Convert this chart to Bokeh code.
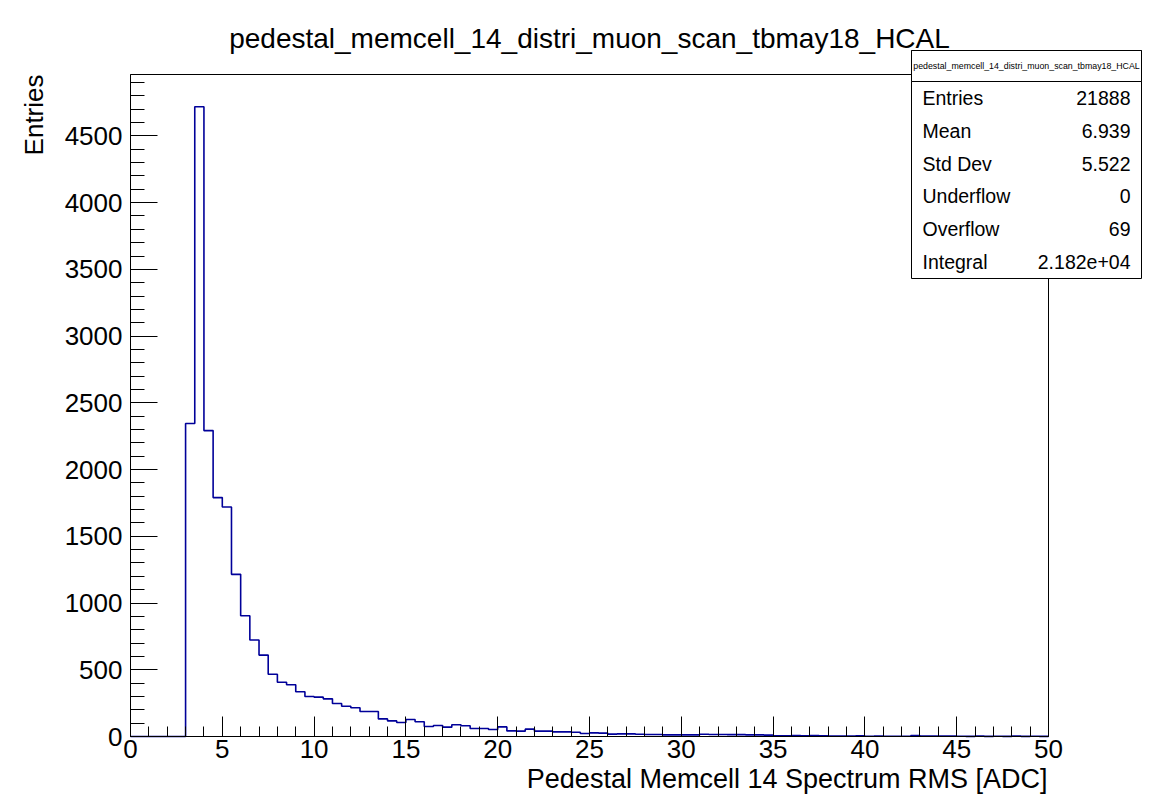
import numpy as np
from math import pi
from bokeh.plotting import figure
from bokeh.models import FixedTicker, Label, BoxAnnotation, Range1d
from bokeh.embed import file_html
from bokeh.resources import INLINE

# ---------------- data ----------------
title_text = "pedestal_memcell_14_distri_muon_scan_tbmay18_HCAL"
x_label = "Pedestal Memcell 14 Spectrum RMS [ADC]"
y_label = "Entries"

bin_low = 0.0
bin_width = 0.5
counts = [
    0, 0, 0, 0, 0, 0, 2345, 4718, 2292, 1790,
    1720, 1215, 905, 723, 610, 466, 407, 388, 335, 300,
    295, 282, 247, 227, 215, 187, 187, 132, 117, 105,
    127, 110, 75, 82, 70, 88, 80, 60, 60, 52,
    72, 42, 40, 55, 40, 40, 35, 35, 32, 22,
    27, 25, 18, 20, 20, 17, 15, 15, 12, 12,
    12, 12, 17, 15, 15, 14, 14, 12, 12, 10,
    6, 5, 7, 6, 8, 6, 3, 4, 3, 6,
    2, 3, 2, 2, 2, 8, 3, 4, 4, 4,
    2, 1, 3, 1, 2, 1, 3, 1, 2, 1,
]

x_ticks = [0, 5, 10, 15, 20, 25, 30, 35, 40, 45, 50]
x_minor_ticks = list(range(0, 51, 1))
y_ticks = [0, 500, 1000, 1500, 2000, 2500, 3000, 3500, 4000, 4500]
y_minor_ticks = list(range(0, 5000, 100))

stats_header = "pedestal_memcell_14_distri_muon_scan_tbmay18_HCAL"
stats_names = ["Entries", "Mean", "Std Dev", "Underflow", "Overflow", "Integral"]
stats_values = ["21888", "6.939", "5.522", "0", "69", "2.182e+04"]

# ---------------- layout ----------------
W, H = 1159, 796
L, R, T, B = 130, 111, 74, 60          # pad margins around the ROOT-like frame (px)
FW, FH = W - L - R, H - T - B
XMAX = 50.0
YMAX = 4960.0
FONT = "Liberation Sans"
HIST_COLOR = "#000099"

x_start = -L / FW * XMAX
x_end = XMAX + R / FW * XMAX
y_start = -B / FH * YMAX
y_end = YMAX + T / FH * YMAX


def px_x(px):
    return (px - L) / FW * XMAX


def px_y(py):
    return (H - B - py) / FH * YMAX


p = figure(width=W, height=H, x_range=Range1d(x_start, x_end), y_range=Range1d(y_start, y_end),
           output_backend="svg", toolbar_location=None,
           min_border_left=0, min_border_right=0, min_border_top=0, min_border_bottom=0)
p.title.visible = False
p.xgrid.visible = False
p.ygrid.visible = False
p.outline_line_color = None
p.background_fill_color = "white"
p.border_fill_color = "white"

# frame box of the histogram pad
p.quad(left=[0], right=[XMAX], bottom=[0], top=[YMAX], fill_alpha=0,
       line_color="black", line_width=1)

# histogram outline
edges = bin_low + bin_width * np.arange(len(counts) + 1)
xs = np.repeat(edges, 2)[1:-1]
ys = np.repeat(np.array(counts, dtype=float), 2)
p.line(xs, ys, line_color=HIST_COLOR, line_width=1.6)

# axes placed at the frame edges
p.xaxis.ticker = FixedTicker(ticks=x_ticks, minor_ticks=x_minor_ticks)
p.yaxis.ticker = FixedTicker(ticks=y_ticks, minor_ticks=y_minor_ticks)
p.xaxis.fixed_location = 0
p.yaxis.fixed_location = 0
p.xaxis.bounds = (0, XMAX)
p.yaxis.bounds = (0, YMAX)
for ax in (p.xaxis[0], p.yaxis[0]):
    ax.axis_line_color = "black"
    ax.axis_line_width = 1
    ax.major_tick_line_color = "black"
    ax.minor_tick_line_color = "black"
    ax.major_tick_out = 0
    ax.minor_tick_out = 0
    ax.major_label_text_font = FONT
    ax.major_label_text_font_size = "26px"
    ax.major_label_text_color = "black"
p.xaxis.major_tick_in = 20
p.xaxis.minor_tick_in = 10
p.yaxis.major_tick_in = 27
p.yaxis.minor_tick_in = 14
p.xaxis.major_label_standoff = 3
p.yaxis.major_label_standoff = 8

# titles
p.add_layout(Label(x=px_x(589), y=px_y(38), text=title_text, text_align="center",
                   text_baseline="middle", text_font=FONT, text_font_size="28px",
                   text_color="black"))
p.add_layout(Label(x=px_x(1047), y=px_y(778), text=x_label, text_align="right",
                   text_baseline="middle", text_font=FONT, text_font_size="27px",
                   text_color="black"))
p.add_layout(Label(x=px_x(33), y=YMAX, text=y_label, angle=pi / 2, text_align="right",
                   text_baseline="middle", text_font=FONT, text_font_size="26px",
                   text_color="black"))

# stats box
box_l, box_r, box_t, box_b, head_b = 911, 1141, 50, 278, 81
p.add_layout(BoxAnnotation(left=px_x(box_l), right=px_x(box_r), top=px_y(box_t), bottom=px_y(box_b),
                           fill_color="white", fill_alpha=1.0, line_color="black", line_width=1,
                           line_alpha=1.0))
p.add_layout(BoxAnnotation(left=px_x(box_l), right=px_x(box_r), top=px_y(box_t), bottom=px_y(head_b),
                           fill_color="white", fill_alpha=1.0, line_color="black", line_width=1,
                           line_alpha=1.0))
p.add_layout(Label(x=px_x((box_l + box_r) / 2), y=px_y((box_t + head_b) / 2), text=stats_header,
                   text_align="center", text_baseline="middle", text_font=FONT,
                   text_font_size="8.8px", text_color="black"))
row_h = (box_b - head_b) / len(stats_names)
for i, (nm, vl) in enumerate(zip(stats_names, stats_values)):
    yc = head_b + row_h * (i + 0.5)
    p.add_layout(Label(x=px_x(922), y=px_y(yc), text=nm, text_align="left", text_baseline="middle",
                       text_font=FONT, text_font_size="19.5px", text_color="black"))
    p.add_layout(Label(x=px_x(1130), y=px_y(yc), text=vl, text_align="right", text_baseline="middle",
                       text_font=FONT, text_font_size="19.5px", text_color="black"))

open("out.html", "w").write(file_html(p, INLINE))
